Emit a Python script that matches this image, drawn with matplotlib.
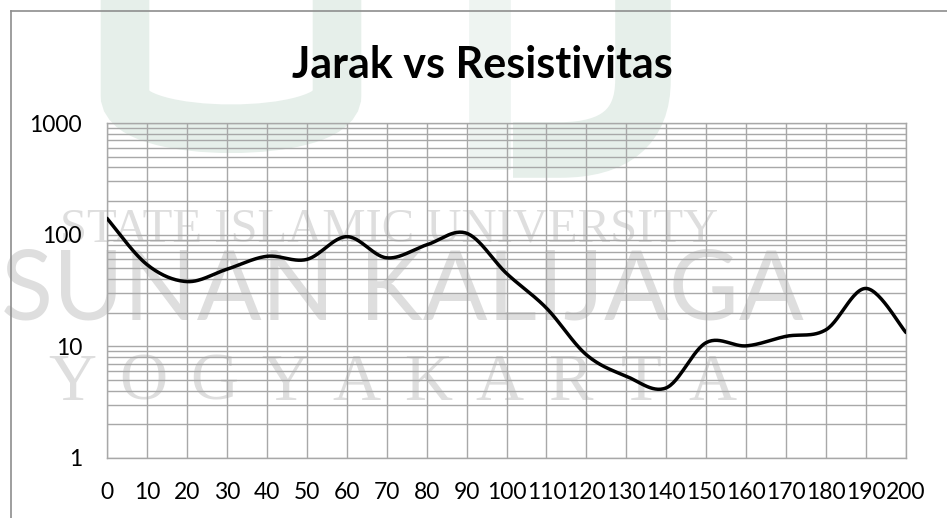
import numpy as np
import matplotlib
matplotlib.use("Agg")
import matplotlib.pyplot as plt
from matplotlib.path import Path
from matplotlib.patches import PathPatch
from matplotlib.lines import Line2D

# jarak (m) dan resistivitas (ohm.m)
jarak = [0, 10, 20, 30, 40, 50, 60, 70, 80, 90, 100,
         110, 120, 130, 140, 150, 160, 170, 180, 190, 200]
resistivitas = [140, 54, 38, 49, 64, 60, 96, 62, 81, 103, 45,
                22, 8.4, 5.4, 4.25, 10.8, 10.1, 12.3, 14.1, 33, 13.3]
judul = "Jarak vs Resistivitas"

W, H = 947, 518


def fx(px):
    return px / W


def fy(py):
    return 1 - py / H


def smooth(x, y, n=30):
    # bezier halus lewat tiap titik (seperti garis "smoothed" di Excel)
    x = np.asarray(x, float)
    y = np.log10(np.asarray(y, float))
    p = np.column_stack([x, y])
    pts = [p[0]]
    for i in range(len(p) - 1):
        p0 = p[i - 1] if i > 0 else p[i]
        p3 = p[i + 2] if i + 2 < len(p) else p[i + 1]
        c1 = p[i] + (p[i + 1] - p0) / 6
        c2 = p[i + 1] - (p3 - p[i]) / 6
        t = np.linspace(0, 1, n)[1:, None]
        seg = ((1 - t) ** 3 * p[i] + 3 * (1 - t) ** 2 * t * c1
               + 3 * (1 - t) * t ** 2 * c2 + t ** 3 * p[i + 1])
        pts.extend(seg)
    pts = np.array(pts)
    return pts[:, 0], 10 ** pts[:, 1]


fig = plt.figure(figsize=(9.47, 5.18), dpi=100)

# watermark latar (digambar di bawah axes)
hijau = "#e6efea"
u_path = Path([(fx(125), fy(0)), (fx(125), fy(95)), (fx(125), fy(140)),
               (fx(337), fy(140)), (fx(337), fy(95)), (fx(337), fy(0))],
              [Path.MOVETO, Path.LINETO, Path.CURVE4, Path.CURVE4,
               Path.CURVE4, Path.LINETO])
fig.add_artist(PathPatch(u_path, fill=False, edgecolor=hijau, lw=35,
                         transform=fig.transFigure, zorder=-2))
j_path = Path([(fx(643), fy(0)), (fx(643), fy(80)), (fx(643), fy(150)),
               (fx(560), fy(150)), (fx(513), fy(150))],
              [Path.MOVETO, Path.LINETO, Path.CURVE3, Path.CURVE3,
               Path.LINETO])
fig.add_artist(PathPatch(j_path, fill=False, edgecolor=hijau, lw=40,
                         capstyle="butt", transform=fig.transFigure, zorder=-2))
fig.add_artist(Line2D([fx(490), fx(490)], [fy(0), fy(170)], color="#eef4f1",
                      lw=30, solid_capstyle="butt", transform=fig.transFigure,
                      zorder=-2))

abu = "#dedede"
fig.text(fx(60), fy(241), "STATE ISLAMIC UNIVERSITY", color=abu,
         family="Liberation Serif", fontsize=35, va="baseline", zorder=-1)
fig.text(fx(1), fy(320), "SUNAN KALIJAGA", color=abu, family="Lato",
         fontsize=69, va="baseline", zorder=-1)
for i, ch in enumerate("YOGYAKARTA"):
    fig.text(fx(72 + i * 71.2), fy(400), ch, color=abu,
             family="Liberation Serif", fontsize=48, ha="center",
             va="baseline", zorder=-1)

# bingkai area grafik
bingkai = "#8e8e8e"
fig.add_artist(Line2D([fx(11), fx(11)], [fy(11), 0], color=bingkai, lw=1.2,
                      transform=fig.transFigure))
fig.add_artist(Line2D([fx(11), 1], [fy(11), fy(11)], color=bingkai, lw=1.2,
                      transform=fig.transFigure))

ax = fig.add_axes([fx(107), fy(458), fx(906) - fx(107), fy(123) - fy(458)])
ax.set_facecolor("none")

xs, ys = smooth(jarak, resistivitas)
ax.plot(xs, ys, color="black", lw=2.5, solid_capstyle="round", zorder=3)

ax.set_yscale("log")
ax.set_ylim(1, 1000)
ax.set_xlim(jarak[0], jarak[-1])
ax.set_xticks(jarak)
ax.set_xticklabels([str(v) for v in jarak])
ax.set_yticks([1, 10, 100, 1000])
ax.set_yticklabels(["1", "10", "100", "1000"])
ax.yaxis.set_minor_locator(matplotlib.ticker.LogLocator(base=10, subs=np.arange(2, 10)))
ax.yaxis.set_minor_formatter(matplotlib.ticker.NullFormatter())

grid = "#a8a8a8"
ax.grid(True, which="major", axis="both", color=grid, lw=1)
ax.grid(True, which="minor", axis="y", color=grid, lw=1)
ax.set_axisbelow(True)
for s in ax.spines.values():
    s.set_color(grid)
    s.set_linewidth(1)

ax.tick_params(axis="both", which="both", length=0)
ax.tick_params(axis="y", pad=18, labelsize=16.5)
ax.tick_params(axis="x", pad=17, labelsize=16.5)
for lab in ax.get_xticklabels() + ax.get_yticklabels():
    lab.set_family("Lato")
    lab.set_color("black")

fig.text(fx(482), fy(78), judul, ha="center", va="baseline",
         family="Lato", fontweight="bold", fontsize=31)

fig.savefig("out.png", dpi=100)
